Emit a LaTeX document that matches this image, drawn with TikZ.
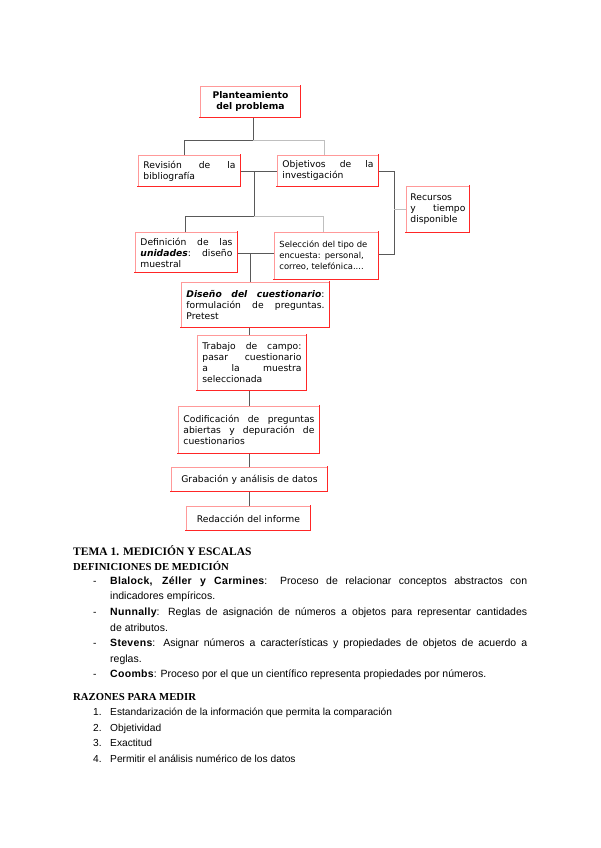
\documentclass[tikz,border=0pt]{standalone}
\usepackage{fontspec}
\setmainfont{Liberation Sans}
\newfontfamily\boxfont{DejaVu Sans}
\newfontfamily\headfont{Liberation Serif}
\newfontface\itembold{Liberation Sans Bold}[LetterSpace=3]
\hyphenpenalty=10000
\exhyphenpenalty=10000
\tolerance=9999

\begin{document}
\begin{tikzpicture}[x=1pt,y=-1pt,
    box/.style={draw=red!40,line width=0.9pt,fill=white,anchor=north west,
      inner xsep=5pt,inner ysep=2pt,align=justify,
      font=\boxfont\fontsize{9.2}{11}\selectfont,
      append after command={(\tikzlastnode.north east) edge[rim] (\tikzlastnode.south east)
        (\tikzlastnode.south east) edge[rim] (\tikzlastnode.south west)}},
    rim/.style={draw=red!85,line width=1.1pt,line cap=rect},
    link/.style={draw=black!65,line width=0.8pt},
    pale/.style={draw=black!25,line width=0.8pt},
    head/.style={anchor=base west,inner sep=0pt,font=\headfont\bfseries\fontsize{10.7}{12}\selectfont},
    item/.style={anchor=base west,inner sep=0pt,text width=417pt,align=justify,
      font=\fontsize{10.5}{15.5}\selectfont},
    bullet/.style={anchor=base west,inner sep=0pt,font=\fontsize{10.2}{15.5}\selectfont}]
  \useasboundingbox (0,0) rectangle (600,848);
  % flow chart boxes
  \node[box,minimum width=100pt,minimum height=31pt,text width=90pt,align=center,
    font=\boxfont\bfseries\fontsize{9.2}{11}\selectfont] (plant) at (200,86)
    {Planteamiento\\del problema};
  \node[box,minimum width=102pt,minimum height=31pt,text width=92pt] (revis) at (138,155)
    {Revisión de la bibliografía};
  \node[box,minimum width=101pt,minimum height=31pt,text width=91pt] (objet) at (277,155)
    {Objetivos de la investigación};
  \node[box,minimum width=63pt,minimum height=46pt,text width=55pt,inner xsep=4pt] (recur) at (406,186)
    {Recursos y tiempo disponible};
  \node[box,minimum width=102pt,minimum height=40pt,text width=92pt] (defin) at (135,232)
    {Definición de las \textbf{\textit{unidades}}: diseño muestral};
  \node[box,minimum width=104pt,minimum height=47pt,text width=94pt,align=left,
    font=\boxfont\fontsize{8.4}{11}\selectfont] (selec) at (274,232)
    {Selección del tipo de encuesta: personal, correo, telefónica....};
  \node[box,minimum width=148pt,minimum height=45pt,text width=138pt] (disen) at (181,282)
    {\textbf{\textit{Diseño del cuestionario}}: formulación de preguntas. Pretest};
  \node[box,minimum width=109pt,minimum height=55pt,text width=99pt] (trab) at (197,335)
    {Trabajo de campo: pasar cuestionario a la muestra seleccionada};
  \node[box,minimum width=141pt,minimum height=47pt,text width=131pt] (codif) at (178,406)
    {Codificación de preguntas abiertas y depuración de cuestionarios};
  \node[box,minimum width=156pt,minimum height=24pt,text width=146pt,align=center] (grab) at (171,467)
    {Grabación y análisis de datos};
  \node[box,minimum width=124pt,minimum height=24pt,text width=114pt,align=center] (redac) at (186,506)
    {Redacción del informe};
  % joints
  \coordinate (j1) at (253,140);
  \coordinate (j2) at (254,216);
  \coordinate (j3) at (394,171);
  \coordinate (trunk) at (250,253);
  % connectors
  \draw[link] (plant.south -| j1) -- (j1);
  \draw[link] (revis.north -| 184,0) -- (184,140) -- (j1);
  \draw[pale] (j1) -- (324,140) -- (objet.north -| 324,0);
  \draw[link] (revis.east |- 0,171) -- (objet.west |- 0,171);
  \draw[link] (j2 |- 0,171) -- (j2);
  \draw[link] (defin.north -| 185,0) -- (185,216) -- (j2);
  \draw[pale] (j2) -- (323,216) -- (selec.north -| 323,0);
  \draw[link] (objet.east |- j3) -- (j3) -- (j3 |- 0,254) -- (selec.east |- 0,254);
  \draw[pale] (j3 |- 0,209) -- (recur.west |- 0,209);
  \draw[link] (defin.east |- trunk) -- (selec.west |- trunk);
  \draw[link] (trunk) -- (disen.north -| trunk);
  \draw[link] (disen.south -| 249,0) -- (trab.north -| 249,0);
  \draw[link] (trab.south -| 249,0) -- (codif.north -| 249,0);
  \draw[link] (codif.south -| 249,0) -- (grab.north -| 249,0);
  \draw[link] (grab.south -| 249,0) -- (redac.north -| 249,0);
  % text below
  \node[head,font=\headfont\bfseries\fontsize{11.5}{13}\selectfont] (tema) at (73,555)
    {TEMA 1. MEDICIÓN Y ESCALAS};
  \node[head] (defs) at (73,570) {DEFINICIONES DE MEDICIÓN};
  \node[bullet] (d1) at (93,584) {-};
  \node[item] (it1) at (110,584)
    {{\itembold Blalock, Zéller y Carmines}: Proceso de relacionar conceptos abstractos con\linebreak indicadores empíricos.};
  \node[bullet] (d2) at (93,615.5) {-};
  \node[item] (it2) at (110,615.5)
    {{\itembold Nunnally}: Reglas de asignación de números a objetos para representar cantidades\linebreak de atributos.};
  \node[bullet] (d3) at (93,646.5) {-};
  \node[item] (it3) at (110,646.5)
    {{\itembold Stevens}: Asignar números a características y propiedades de objetos de acuerdo a\linebreak reglas.};
  \node[bullet] (d4) at (93,677.5) {-};
  \node[item] (it4) at (110,677.5)
    {{\itembold Coombs}: Proceso por el que un científico representa propiedades por números.};
  \node[head] (razon) at (73,700) {RAZONES PARA MEDIR};
  \node[bullet] (n1) at (93,715.5) {1.};
  \node[bullet] (r1) at (110,715.5) {Estandarización de la información que permita la comparación};
  \node[bullet] (n2) at (93,731) {2.};
  \node[bullet] (r2) at (110,731) {Objetividad};
  \node[bullet] (n3) at (93,746.5) {3.};
  \node[bullet] (r3) at (110,746.5) {Exactitud};
  \node[bullet] (n4) at (93,762) {4.};
  \node[bullet] (r4) at (110,762) {Permitir el análisis numérico de los datos};
\end{tikzpicture}
\end{document}
